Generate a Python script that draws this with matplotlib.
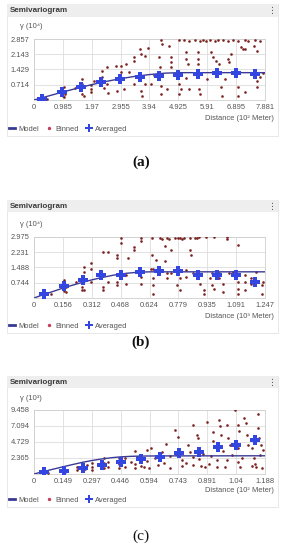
import matplotlib
matplotlib.use("Agg")
import matplotlib.pyplot as plt
from matplotlib.patches import Rectangle
from matplotlib.lines import Line2D

plt.rcParams['font.family'] = ['Liberation Sans', 'DejaVu Sans']

W, H = 283, 550

# ---------------- panel (a) ----------------
a_xticks = [0, 0.985, 1.97, 2.955, 3.94, 4.925, 5.91, 6.895, 7.881]
a_xlabels = ["0", "0.985", "1.97", "2.955", "3.94", "4.925", "5.91", "6.895", "7.881"]
a_yticks = [0, 0.714, 1.429, 2.143, 2.857]
a_bin_x = [0.20, 0.35, 0.45, 1.00, 1.03, 1.03, 0.95, 1.06, 1.40, 1.65, 1.65, 1.65, 1.71, 1.55,
           1.96, 1.96, 1.96, 2.05, 2.33, 2.33, 2.48, 2.48, 2.51, 2.40, 2.80, 2.82, 2.97, 2.97,
           3.08, 3.14, 3.25, 3.40, 3.42, 3.42, 3.62, 3.65, 3.65, 3.68, 3.77, 3.77,
           3.98, 4.33, 4.35, 4.27, 4.30, 4.33, 4.33, 4.55, 4.61, 4.67, 4.67, 4.67, 4.96, 4.96,
           4.96, 5.00, 5.13, 5.30, 5.48, 5.65, 5.77, 5.88, 6.00, 6.17, 6.28, 6.45, 6.62, 6.80,
           6.97, 7.20, 7.31, 7.54, 7.70, 5.18, 5.18, 5.24, 5.30, 5.58, 5.58, 5.58, 5.63, 5.67,
           6.04, 6.10, 6.20, 6.30, 6.38, 6.43, 6.61, 6.64, 6.73, 6.95, 6.95, 7.07, 7.12, 7.20,
           7.20, 7.52, 7.60, 7.60, 7.60, 7.70, 5.90, 6.50, 7.00, 5.20, 7.80, 4.10, 3.90]
a_bin_y = [0.05, 0.08, 0.04, 0.20, 0.13, 0.59, 0.45, 0.30, 0.55, 0.98, 0.75, 0.28, 0.20, 0.62,
           0.51, 0.36, 0.70, 0.90, 1.37, 1.06, 1.53, 0.75, 0.31, 0.55, 1.60, 0.44, 1.60, 1.29,
           0.51, 1.68, 1.29, 2.00, 1.84, 0.75, 2.38, 2.15, 0.44, 0.20, 2.07, 0.75,
           0.75, 2.80, 2.62, 2.00, 1.53, 0.67, 0.28, 0.51, 2.54, 2.00, 1.76, 1.53, 2.80, 0.75,
           0.28, 0.51, 2.80, 2.78, 2.80, 2.76, 2.80, 2.78, 2.80, 2.76, 2.80, 2.80, 2.78, 2.80,
           2.76, 2.80, 2.78, 2.80, 2.76, 2.23, 1.90, 1.68, 0.51, 2.23, 1.90, 1.68, 0.51, 0.28,
           2.23, 2.00, 1.84, 1.68, 0.59, 0.20, 1.90, 1.76, 2.15, 0.59, 0.20, 2.46, 2.40, 2.38,
           0.36, 2.54, 0.90, 0.59, 2.30, 1.10, 1.00, 1.00, 1.30, 1.05, 1.25, 1.15, 2.45]
a_avg_x = [0.27, 0.96, 1.61, 2.29, 2.95, 3.60, 4.25, 4.90, 5.58, 6.23, 6.88, 7.53]
a_avg_y = [0.06, 0.38, 0.60, 0.85, 0.98, 1.10, 1.14, 1.16, 1.20, 1.25, 1.25, 1.24]
a_mod_x = [0, 0.5, 1.0, 1.5, 2.0, 2.5, 3.0, 3.5, 4.0, 4.5, 5.0, 5.5, 6.5, 7.881]
a_mod_y = [0, 0.19, 0.38, 0.56, 0.73, 0.88, 1.01, 1.12, 1.20, 1.26, 1.28, 1.28, 1.28, 1.28]

# ---------------- panel (b) ----------------
b_xticks = [0, 0.156, 0.312, 0.468, 0.624, 0.779, 0.935, 1.091, 1.247]
b_xlabels = ["0", "0.156", "0.312", "0.468", "0.624", "0.779", "0.935", "1.091", "1.247"]
b_yticks = [0, 0.744, 1.488, 2.231, 2.975]
b_bin_x = [0.07, 0.09, 0.16, 0.16, 0.172, 0.172, 0.226, 0.26, 0.26, 0.27, 0.27, 0.27, 0.31,
           0.31, 0.31, 0.37, 0.40, 0.40, 0.37, 0.37, 0.446, 0.446, 0.446, 0.446, 0.47, 0.47,
           0.495, 0.495, 0.51, 0.54, 0.54, 0.58, 0.58, 0.575, 0.575, 0.63,
           0.635, 0.68, 0.69, 0.72, 0.73, 0.76, 0.78, 0.79, 0.80, 0.81, 0.84, 0.88, 0.89, 0.93,
           0.97, 1.04, 1.04, 0.636, 0.66, 0.645, 0.64, 0.64, 0.645, 0.708, 0.708, 0.72, 0.72,
           0.74, 0.77, 0.79, 0.79, 0.82, 0.82, 0.84, 0.85, 0.86, 0.87, 0.896, 0.92, 0.92, 0.95,
           0.96, 0.96, 0.97, 1.00, 1.00, 1.02, 1.02, 1.05, 1.075, 1.10, 1.10, 1.10, 1.14, 1.14,
           1.14, 1.17, 1.17, 1.20, 1.23, 1.235, 1.23, 1.10, 0.74]
b_bin_y = [0.18, 0.20, 0.85, 0.35, 0.54, 0.29, 0.78, 0.55, 0.39, 1.52, 1.27, 0.38, 1.68,
           1.43, 0.78, 2.25, 2.22, 0.78, 0.54, 0.38, 2.09, 1.93, 0.78, 0.62, 2.91, 2.66,
           1.11, 0.70, 1.93, 2.48, 2.33, 2.90, 2.75, 1.03, 0.70, 1.40,
           2.90, 2.90, 2.85, 2.90, 2.85, 2.90, 2.92, 2.90, 2.88, 2.90, 2.90, 2.90, 2.95, 2.97,
           2.95, 2.97, 2.85, 2.09, 1.85, 1.40, 0.95, 0.62, 0.21, 2.50, 1.80, 1.19, 0.95,
           1.19, 0.62, 0.95, 0.37, 1.35, 1.00, 2.34, 2.09, 1.19, 2.90, 0.70, 0.37, 0.21, 0.95,
           1.19, 0.62, 0.45, 1.19, 0.95, 0.70, 0.29, 1.19, 1.27, 0.78, 0.45, 0.21, 1.11, 0.78,
           0.37, 0.95, 0.70, 1.27, 0.62, 0.78, 0.21, 2.55, 2.35]
b_avg_x = [0.052, 0.16, 0.262, 0.36, 0.468, 0.57, 0.676, 0.778, 0.883, 0.988, 1.088, 1.194]
b_avg_y = [0.21, 0.58, 0.89, 1.10, 1.14, 1.27, 1.31, 1.31, 1.14, 1.13, 1.10, 0.78]
b_mod_x = [0, 0.05, 0.1, 0.156, 0.2, 0.25, 0.312, 0.37, 0.43, 0.5, 0.56, 0.624, 0.7, 1.247]
b_mod_y = [0, 0.16, 0.31, 0.48, 0.60, 0.73, 0.88, 1.00, 1.11, 1.20, 1.25, 1.27, 1.27, 1.27]

# ---------------- panel (c) ----------------
c_xticks = [0, 0.149, 0.297, 0.446, 0.594, 0.743, 0.891, 1.04, 1.188]
c_xlabels = ["0", "0.149", "0.297", "0.446", "0.594", "0.743", "0.891", "1.04", "1.188"]
c_yticks = [0, 2.365, 4.729, 7.094, 9.458]
c_bin_x = [0.07, 0.16, 0.22, 0.22, 0.26, 0.27, 0.30, 0.30, 0.30, 0.36, 0.36, 0.36, 0.38, 0.38,
           0.435, 0.435, 0.435, 0.435, 0.47, 0.47, 0.50, 0.52, 0.52, 0.52, 0.53, 0.55, 0.565,
           0.58, 0.58, 0.59, 0.60, 0.62, 0.64, 0.66, 0.67, 0.68, 0.70, 0.70,
           0.725, 0.74, 0.76, 0.76, 0.79, 0.82, 0.82, 0.82, 0.84, 0.845, 0.86, 0.88, 0.89, 0.92,
           0.92, 0.94, 0.94, 0.95, 0.955, 0.96, 0.98, 0.99, 0.99, 1.00, 1.01, 1.033, 1.05, 1.055,
           1.05, 1.05, 1.06, 1.08, 1.09, 1.095, 1.10, 1.12, 1.13, 1.135, 1.14, 1.15, 1.15, 1.155,
           1.16, 0.73, 0.78, 0.80, 0.85, 0.87, 0.90, 0.91, 0.97, 1.02, 1.07, 1.12, 1.17, 1.18,
           1.165]
c_bin_y = [0.15, 0.35, 1.08, 0.60, 0.80, 1.30, 1.58, 1.08, 0.59, 2.30, 1.58, 0.84, 1.80, 1.10,
           2.40, 1.90, 1.40, 0.85, 2.30, 1.10, 1.80, 1.50, 0.85, 3.40, 2.56, 1.20, 1.00,
           3.50, 1.90, 0.90, 3.80, 2.40, 1.30, 3.20, 1.60, 4.40, 0.90, 2.60,
           6.50, 5.50, 2.00, 1.20, 4.30, 2.56, 1.30, 7.25, 5.80, 5.30, 1.20, 1.00, 7.70, 6.25,
           4.80, 2.00, 1.00, 8.00, 7.00, 5.80, 1.00, 2.00, 7.20, 5.30, 4.30, 9.40, 7.20, 6.30,
           3.80, 1.80, 1.00, 8.30, 7.50, 5.80, 4.30, 3.80, 2.30, 1.50, 1.00, 8.80, 6.80, 5.30,
           2.80, 3.00, 1.60, 3.30, 2.20, 3.00, 1.50, 2.60, 3.40, 2.80, 2.30, 1.20, 0.90, 3.50,
           4.20]
c_avg_x = [0.05, 0.155, 0.254, 0.352, 0.449, 0.548, 0.649, 0.746, 0.848, 0.944, 1.041, 1.138]
c_avg_y = [0.32, 0.47, 0.93, 1.32, 1.70, 2.15, 2.55, 3.06, 3.30, 3.95, 4.29, 5.02]
c_mod_x = [0, 0.05, 0.1, 0.149, 0.2, 0.25, 0.297, 0.35, 0.4, 0.446, 0.5, 0.55, 0.65, 1.188]
c_mod_y = [0, 0.37, 0.72, 1.06, 1.40, 1.72, 1.98, 2.22, 2.40, 2.52, 2.60, 2.64, 2.66, 2.68]

DOT = '#7a2020'
BLUE = '#3347e0'
NAVY = '#3a3a94'
TXT = '#555555'


def fx(px):
    return px / W


def fy(py):
    return 1 - py / H


fig = plt.figure(figsize=(W / 100, H / 100), dpi=100)
fig.patch.set_facecolor('white')


def panel(head, ytop, ybot, yl_y, xl_y, leg_y, xt, xtl, yt,
          bx, by, ax_, ay_, mx, my, ylab, xlab, letter, let_y, bold):
    # frame + header bar
    fig.add_artist(Rectangle((fx(7), fy(leg_y + 7)), fx(271), (leg_y + 7 - head + 6) / H,
                             transform=fig.transFigure, facecolor='white',
                             edgecolor='#e4e4e4', lw=0.6, zorder=0))
    fig.add_artist(Rectangle((fx(7), fy(head + 6)), fx(271), 12 / H,
                             transform=fig.transFigure, facecolor='#eeeeee',
                             edgecolor='none', zorder=1))
    fig.text(fx(10), fy(head), "Semivariogram", fontsize=5.8, color='#3a3a3a',
             va='center', ha='left', fontweight='semibold')
    fig.text(fx(272), fy(head), "\u22ee", fontsize=6.5, color='#555555',
             va='center', ha='center', family=['DejaVu Sans'])

    ax = fig.add_axes([fx(34), fy(ybot), fx(265 - 34), (ybot - ytop) / H])
    ax.set_xlim(xt[0], xt[-1])
    ax.set_ylim(yt[0], yt[-1])
    ax.set_xticks(xt)
    ax.set_xticklabels(xtl)
    ax.set_yticks(yt)
    ax.set_yticklabels([""] + ["%g" % v for v in yt[1:]])
    ax.tick_params(length=0, labelsize=5.4, colors=TXT, pad=3)
    ax.grid(True, color='#dddddd', lw=0.6)
    ax.set_axisbelow(True)
    for s in ax.spines.values():
        s.set_color('#cfcfcf')
        s.set_linewidth(0.6)

    ax.scatter(bx, by, s=3.5, color=DOT, linewidths=0, zorder=3)
    ax.plot(mx, my, color=NAVY, lw=1.0, zorder=4)
    ax.plot(ax_, ay_, ls='none', marker='P', ms=7.2, color=BLUE,
            markeredgewidth=0, zorder=5)

    fig.text(fx(31), fy(yl_y), ylab, fontsize=5.4, color=TXT, ha='center', va='center')
    fig.text(fx(274), fy(xl_y), xlab, fontsize=5.4, color=TXT, ha='right', va='center')

    handles = [Line2D([], [], color=NAVY, lw=2.0),
               Line2D([], [], ls='none', marker='o', ms=1.4, color='#c83a55'),
               Line2D([], [], ls='none', marker='P', ms=6, color=BLUE, markeredgewidth=0)]
    fig.legend(handles, ["Model", "Binned", "Averaged"], loc='center left',
               bbox_to_anchor=(fx(9), fy(leg_y)), ncol=3, frameon=False,
               fontsize=5.4, labelcolor=TXT, handlelength=0.8, handletextpad=0.4,
               columnspacing=1.0, borderpad=0, borderaxespad=0)

    fig.text(fx(141), fy(let_y), letter, fontsize=11, family=['Liberation Serif'],
             fontweight='bold' if bold else 'normal', ha='center', va='center',
             color='#111111')


panel(10.5, 39, 100, 27, 118, 129, a_xticks, a_xlabels, a_yticks,
      a_bin_x, a_bin_y, a_avg_x, a_avg_y, a_mod_x, a_mod_y,
      "\u03b3 (10\u2074)", "Distance (10\u00b2 Meter)", "(a)", 162, True)
panel(206, 236.7, 298, 224, 316, 326, b_xticks, b_xlabels, b_yticks,
      b_bin_x, b_bin_y, b_avg_x, b_avg_y, b_mod_x, b_mod_y,
      "\u03b3 (10\u2074)", "Distance (10\u00b3 Meter)", "(b)", 342, True)
panel(382, 409.7, 474, 399, 491, 500, c_xticks, c_xlabels, c_yticks,
      c_bin_x, c_bin_y, c_avg_x, c_avg_y, c_mod_x, c_mod_y,
      "\u03b3 (10\u00b3)", "Distance (10\u00b2 Meter)", "(c)", 536, False)

fig.savefig("out.png", dpi=100, facecolor='white')
